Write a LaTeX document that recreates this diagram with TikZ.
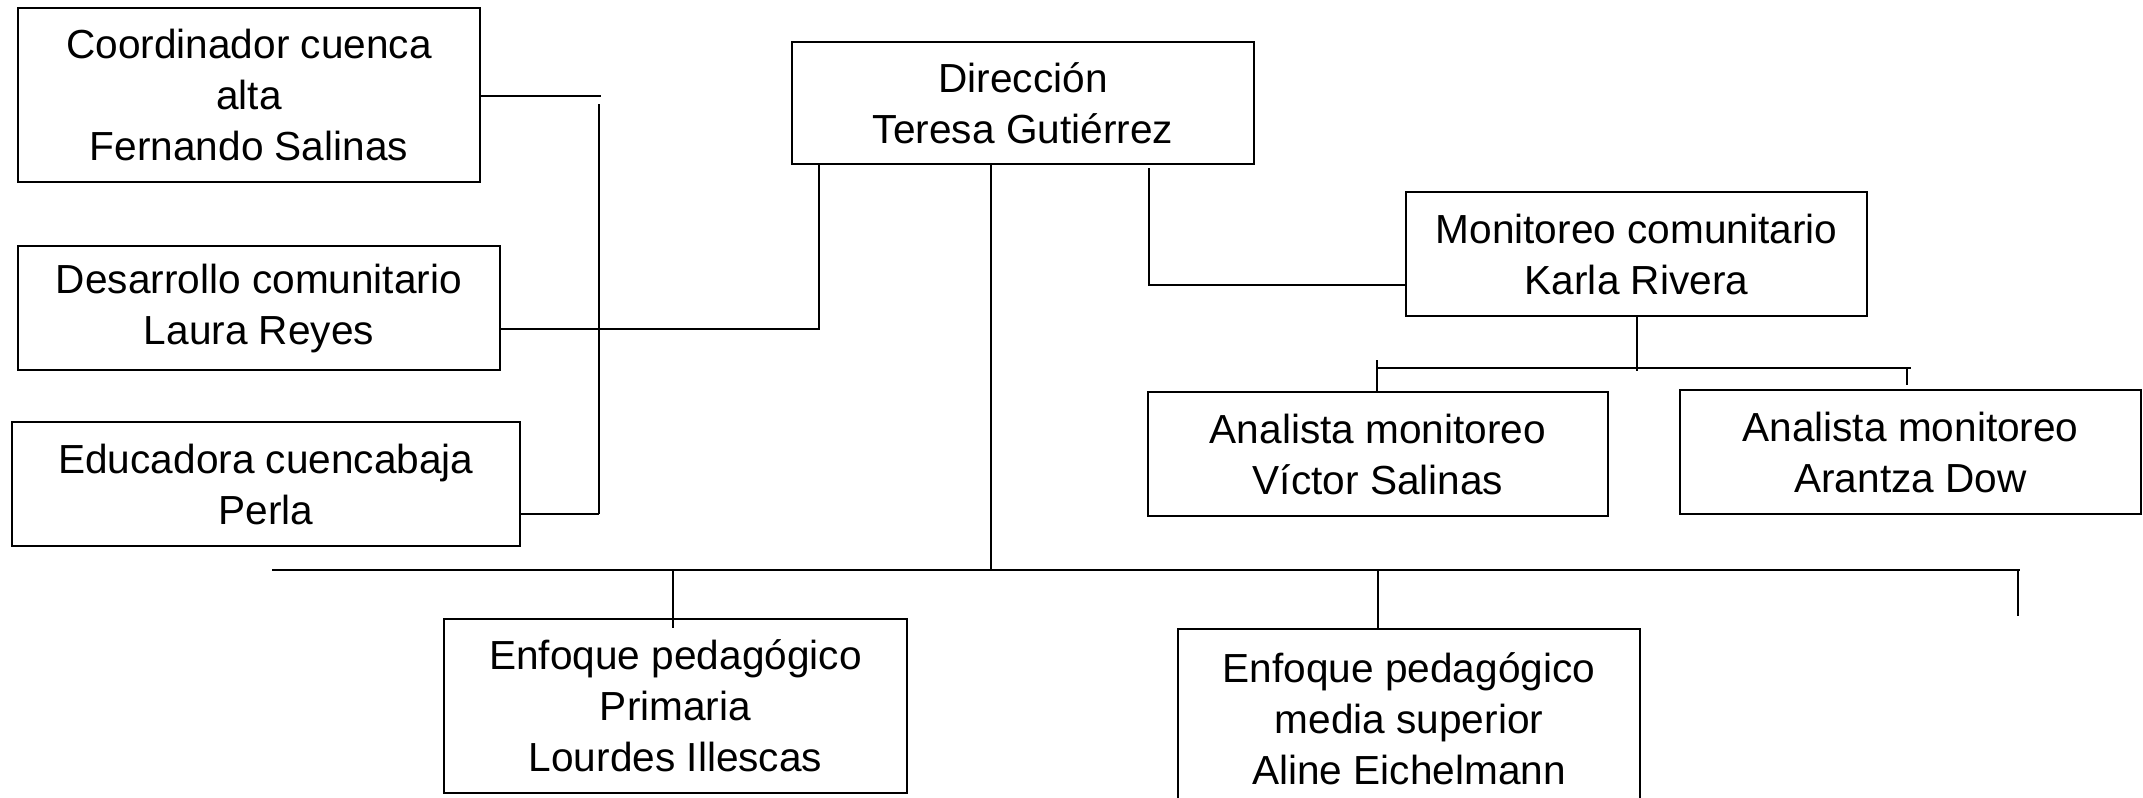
\documentclass[tikz,border=0pt]{standalone}
\usepackage{fontspec}
\setmainfont{Liberation Sans}
\begin{document}
\begin{tikzpicture}[x=0.5pt,y=-0.5pt,
  box/.style={draw=black,line width=1.3pt,fill=white,inner sep=0pt,align=center,
    font=\fontsize{20.3}{25.5}\selectfont},
  conn/.style={draw=black,line width=0.7pt}]
\useasboundingbox (0,0) rectangle (2143,798);
% boxes
\node[box,minimum width=231pt,minimum height=87pt] (B1) at (249,95) {Coordinador cuenca\\alta\\Fernando Salinas};
\node[box,minimum width=241pt,minimum height=62pt] (B2) at (259,308) {Desarrollo comunitario\\Laura Reyes};
\node[box,minimum width=254pt,minimum height=62pt] (B3) at (266,484) {Educadora cuencabaja\\Perla};
\node[box,minimum width=231pt,minimum height=61pt] (D) at (1023,103) {Dirección\\Teresa Gutiérrez};
\node[box,minimum width=230.5pt,minimum height=62pt] (M) at (1636.5,254) {Monitoreo comunitario\\Karla Rivera};
\node[box,minimum width=230pt,minimum height=62pt] (A1) at (1378,454) {Analista monitoreo\\Víctor Salinas};
\node[box,minimum width=230.5pt,minimum height=62pt] (A2) at (1910.5,452) {Analista monitoreo\\Arantza Dow};
\node[box,minimum width=231.5pt,minimum height=87pt] (P) at (675.5,706) {Enfoque pedagógico\\Primaria\\Lourdes Illescas};
\node[box,minimum width=231pt,minimum height=90pt] (S) at (1409,719) {Enfoque pedagógico\\media superior\\Aline Eichelmann};
% coordinates
\coordinate (L1) at (601,96);
\coordinate (Ltop) at (599,104);
\coordinate (Lbot) at (599,514);
\coordinate (D1) at (819,329);
\coordinate (D2top) at (1149,168);
\coordinate (D2) at (1149,285);
\coordinate (Dc) at (991,570);
\coordinate (Mb) at (1637,371);
\coordinate (MbL) at (1377,368);
\coordinate (MbR) at (1911,368);
\coordinate (T1) at (1377,360);
\coordinate (T2) at (1907,385);
\coordinate (BusL) at (272,570);
\coordinate (BusR) at (2020,570);
\coordinate (TP) at (673,628);
\coordinate (TS) at (1378,630);
\coordinate (TR) at (2018,616);
% left group
\draw[conn] (B1.east |- L1) -- (L1);
\draw[conn] (Ltop) -- (Lbot);
\draw[conn] (B3.east |- Lbot) -- (Lbot);
\draw[conn] (B2.east |- D1) -- (D1) -- (D1 |- D.south);
% right group
\draw[conn] (D2top) -- (D2) -- (M.west |- D2);
\draw[conn] (M.south -| Mb) -- (Mb);
\draw[conn] (MbL) -- (MbR);
\draw[conn] (T1) -- (T1 |- A1.north);
\draw[conn] (T2 |- MbR) -- (T2);
% main bus
\draw[conn] (D.south -| Dc) -- (Dc);
\draw[conn] (BusL) -- (BusR);
\draw[conn] (TP |- BusL) -- (TP);
\draw[conn] (TS |- BusL) -- (TS);
\draw[conn] (TR |- BusL) -- (TR);
\end{tikzpicture}
\end{document}
